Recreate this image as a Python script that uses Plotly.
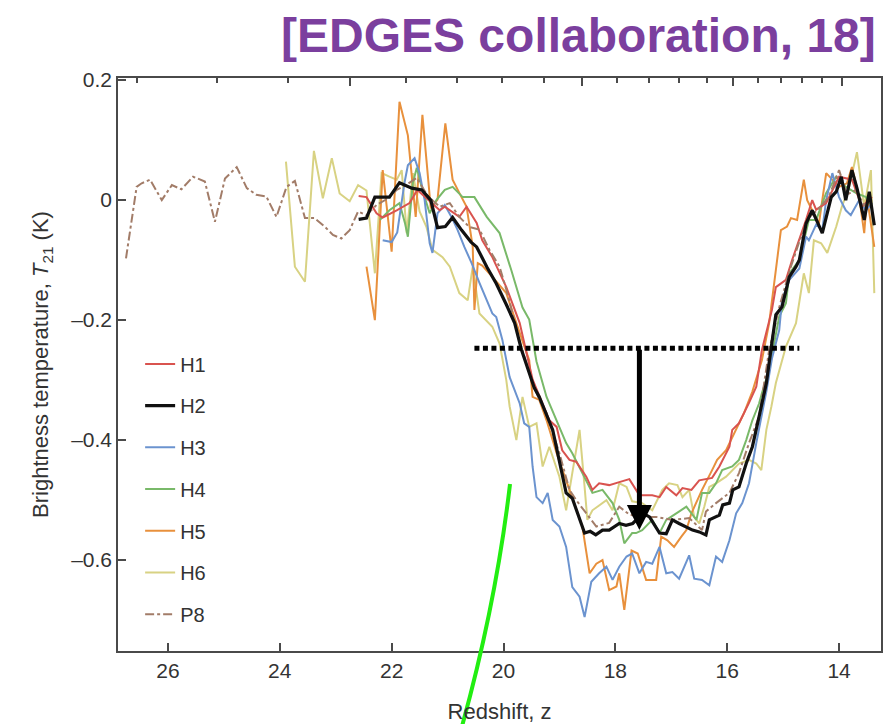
import numpy as np
import plotly.graph_objects as go

# ---------------- data ----------------
H1_z = [22.59, 22.45, 22.27, 22.16, 21.91, 21.68, 21.54, 21.30, 21.14, 21.05, 20.93, 20.79, 20.66, 20.48, 20.38, 20.20,
        19.95, 19.71, 19.48, 19.30, 19.18, 19.05, 18.95, 18.82, 18.70, 18.52, 18.41, 18.29, 18.11, 17.93, 17.75, 17.63,
        17.57, 17.34, 17.21, 17.09, 16.91, 16.80, 16.64, 16.50, 16.27, 16.14, 15.96, 15.91, 15.79, 15.61, 15.48, 15.38,
        15.20, 15.13, 14.95, 14.84, 14.71, 14.59, 14.48, 14.41, 14.23, 14.00, 13.77, 13.59, 13.41]
H1_T = [0.006, 0.004, -0.023, -0.030, -0.018, -0.006, 0.016, -0.005, -0.018, -0.012, -0.020, -0.029, -0.012, -0.039,
        -0.068, -0.096, -0.146, -0.206, -0.300, -0.340, -0.368, -0.379, -0.418, -0.434, -0.437, -0.462, -0.484, -0.473,
        -0.476, -0.471, -0.466, -0.484, -0.493, -0.493, -0.496, -0.479, -0.493, -0.481, -0.484, -0.468, -0.464, -0.445,
        -0.412, -0.384, -0.373, -0.339, -0.312, -0.251, -0.184, -0.146, -0.134, -0.101, -0.068, -0.034, -0.001, -0.017,
        -0.006, 0.038, 0.033, -0.012, 0.004]

H2_z = [22.59, 22.45, 22.30, 22.04, 21.86, 21.64, 21.46, 21.30, 21.18, 21.04, 20.91, 20.75, 20.58, 20.48, 20.30, 20.13,
        19.95, 19.80, 19.68, 19.45, 19.36, 19.12, 18.88, 18.77, 18.55, 18.45, 18.35, 18.23, 18.11, 17.93, 17.81, 17.69,
        17.57, 17.51, 17.39, 17.21, 17.09, 16.98, 16.86, 16.74, 16.62, 16.50, 16.38, 16.32, 16.14, 16.08, 15.96, 15.90,
        15.79, 15.66, 15.55, 15.43, 15.30, 15.21, 15.13, 15.02, 14.89, 14.77, 14.71, 14.59, 14.48, 14.30, 14.14, 14.05,
        13.96, 13.88, 13.77, 13.68, 13.55, 13.46, 13.37]
H2_T = [-0.033, -0.031, 0.004, 0.004, 0.028, 0.019, 0.016, -0.001, -0.047, -0.045, -0.030, -0.051, -0.071, -0.079,
        -0.112, -0.140, -0.175, -0.206, -0.250, -0.314, -0.329, -0.384, -0.489, -0.498, -0.556, -0.553, -0.559, -0.551,
        -0.551, -0.540, -0.543, -0.540, -0.529, -0.523, -0.529, -0.556, -0.557, -0.534, -0.540, -0.545, -0.551, -0.554,
        -0.559, -0.534, -0.526, -0.509, -0.506, -0.484, -0.479, -0.440, -0.412, -0.362, -0.306, -0.245, -0.192, -0.179,
        -0.129, -0.112, -0.101, -0.040, -0.018, -0.056, 0.004, 0.013, 0.038, -0.001, 0.049, 0.019, -0.034, 0.013, -0.043]

H3_z = [22.16, 22.00, 21.90, 21.77, 21.71, 21.59, 21.50, 21.41, 21.32, 21.27, 21.18, 21.05, 20.93, 20.82, 20.70, 20.57,
        20.43, 20.30, 20.20, 20.13, 20.02, 19.89, 19.71, 19.63, 19.54, 19.48, 19.41, 19.30, 19.21, 19.12, 19.00, 18.88,
        18.77, 18.64, 18.55, 18.43, 18.29, 18.16, 18.05, 17.93, 17.80, 17.70, 17.57, 17.45, 17.34, 17.21, 17.09, 16.98,
        16.86, 16.68, 16.59, 16.45, 16.32, 16.20, 16.09, 15.96, 15.84, 15.73, 15.61, 15.48, 15.38, 15.30, 15.20, 15.13,
        15.07, 15.02, 14.89, 14.71, 14.59, 14.54, 14.41, 14.30, 14.23, 14.12, 14.00, 13.88, 13.79, 13.64, 13.52, 13.41]
H3_T = [-0.068, -0.071, -0.055, 0.028, 0.057, 0.069, 0.044, -0.001, -0.073, -0.089, -0.023, -0.009, -0.029, -0.051,
        -0.079, -0.106, -0.139, -0.168, -0.190, -0.196, -0.234, -0.296, -0.340, -0.373, -0.379, -0.445, -0.496, -0.506,
        -0.489, -0.534, -0.545, -0.579, -0.646, -0.662, -0.696, -0.637, -0.623, -0.612, -0.634, -0.612, -0.595, -0.590,
        -0.623, -0.604, -0.607, -0.579, -0.623, -0.621, -0.632, -0.593, -0.632, -0.634, -0.643, -0.595, -0.604, -0.568,
        -0.523, -0.506, -0.473, -0.406, -0.360, -0.320, -0.265, -0.240, -0.218, -0.168, -0.134, -0.115, -0.062, -0.068,
        -0.042, -0.051, -0.001, 0.044, 0.004, -0.018, -0.026, -0.001, -0.018, -0.006]

H4_z = [22.21, 22.04, 21.86, 21.76, 21.71, 21.62, 21.55, 21.45, 21.32, 21.20, 21.05, 20.91, 20.73, 20.52, 20.30, 20.07,
        19.86, 19.66, 19.54, 19.41, 19.23, 19.05, 18.88, 18.77, 18.59, 18.41, 18.23, 18.05, 17.93, 17.84, 17.70, 17.63,
        17.52, 17.34, 17.21, 17.09, 16.91, 16.73, 16.55, 16.45, 16.32, 16.20, 16.09, 15.91, 15.79, 15.66, 15.55, 15.43,
        15.38, 15.25, 15.07, 14.95, 14.89, 14.71, 14.54, 14.41, 14.23, 14.05, 13.88, 13.70, 13.52, 13.41]
H4_T = [-0.034, -0.018, -0.006, -0.040, -0.062, 0.028, 0.053, 0.016, -0.023, -0.001, 0.016, 0.021, 0.004, 0.004,
        -0.029, -0.056, -0.118, -0.180, -0.200, -0.270, -0.329, -0.368, -0.406, -0.423, -0.456, -0.489, -0.484, -0.506,
        -0.534, -0.573, -0.556, -0.556, -0.551, -0.534, -0.556, -0.534, -0.523, -0.512, -0.534, -0.489, -0.489, -0.473,
        -0.451, -0.445, -0.434, -0.401, -0.368, -0.340, -0.323, -0.284, -0.195, -0.173, -0.123, -0.101, -0.034, -0.034,
        0.011, 0.038, 0.021, 0.011, 0.004, -0.012]

H5_z = [22.45, 22.30, 22.16, 22.00, 21.86, 21.71, 21.57, 21.45, 21.30, 21.18, 21.04, 20.91, 20.79, 20.66, 20.55, 20.52,
        20.46, 20.38, 20.20, 19.95, 19.77, 19.54, 19.48, 19.36, 19.23, 19.05, 18.88, 18.70, 18.59, 18.46, 18.34, 18.23,
        18.11, 17.98, 17.93, 17.84, 17.71, 17.60, 17.45, 17.27, 17.18, 17.07, 16.95, 16.82, 16.73, 16.64, 16.54, 16.45,
        16.27, 16.18, 16.02, 15.93, 15.84, 15.70, 15.55, 15.38, 15.25, 15.13, 15.04, 14.93, 14.86, 14.75, 14.63, 14.57,
        14.48, 14.36, 14.23, 14.12, 14.00, 13.86, 13.77, 13.64, 13.55, 13.50, 13.37]
H5_T = [-0.112, -0.201, 0.049, -0.087, 0.163, 0.107, -0.029, 0.141, -0.015, 0.000, 0.127, 0.033, 0.011, -0.012,
        -0.079, -0.184, -0.106, -0.110, -0.129, -0.156, -0.206, -0.268, -0.329, -0.334, -0.368, -0.423, -0.468, -0.518,
        -0.545, -0.623, -0.607, -0.601, -0.651, -0.645, -0.623, -0.684, -0.585, -0.590, -0.634, -0.634, -0.562, -0.568,
        -0.579, -0.562, -0.551, -0.523, -0.501, -0.484, -0.451, -0.434, -0.418, -0.401, -0.384, -0.356, -0.320, -0.268,
        -0.206, -0.118, -0.051, -0.045, -0.031, -0.034, 0.033, -0.001, -0.018, -0.040, 0.044, 0.033, 0.021, 0.027, 0.054,
        0.004, -0.056, 0.004, -0.079]

H6_z = [23.89, 23.73, 23.55, 23.39, 23.23, 23.07, 22.93, 22.75, 22.60, 22.45, 22.30, 22.18, 22.04, 21.91, 21.82, 21.73,
        21.62, 21.50, 21.38, 21.27, 21.09, 20.96, 20.79, 20.64, 20.55, 20.43, 20.20, 20.07, 19.95, 19.89, 19.77, 19.66,
        19.54, 19.41, 19.30, 19.18, 19.00, 18.88, 18.77, 18.64, 18.55, 18.50, 18.41, 18.16, 18.05, 17.93, 17.80, 17.70,
        17.52, 17.34, 17.16, 17.04, 16.89, 16.80, 16.68, 16.59, 16.50, 16.41, 16.32, 16.20, 16.02, 15.91, 15.79, 15.61,
        15.48, 15.39, 15.30, 15.21, 15.13, 14.95, 14.77, 14.63, 14.54, 14.45, 14.32, 14.21, 14.05, 13.95, 13.82, 13.68,
        13.55, 13.43, 13.37]
H6_T = [0.063, -0.112, -0.137, 0.081, 0.002, 0.069, 0.010, -0.003, 0.024, 0.015, -0.123, 0.044, 0.038, 0.033, 0.049,
        -0.056, 0.044, -0.020, -0.045, -0.084, -0.096, -0.112, -0.156, -0.168, -0.112, -0.190, -0.212, -0.240, -0.301,
        -0.345, -0.401, -0.329, -0.379, -0.373, -0.445, -0.412, -0.462, -0.518, -0.456, -0.384, -0.479, -0.534, -0.518,
        -0.501, -0.518, -0.473, -0.479, -0.503, -0.506, -0.518, -0.484, -0.473, -0.476, -0.496, -0.484, -0.529, -0.540,
        -0.512, -0.479, -0.473, -0.462, -0.451, -0.440, -0.434, -0.440, -0.451, -0.384, -0.345, -0.306, -0.245, -0.206,
        -0.123, -0.156, -0.068, -0.073, -0.089, -0.045, -0.012, 0.021, 0.079, -0.012, 0.049, -0.156]

P8_z = [26.75, 26.56, 26.47, 26.32, 26.11, 25.93, 25.76, 25.55, 25.34, 25.16, 24.98, 24.77, 24.59, 24.42, 24.24, 24.06,
        23.88, 23.73, 23.55, 23.38, 23.20, 23.05, 22.90, 22.75, 22.60, 22.45, 22.27, 22.10, 21.91, 21.73, 21.55, 21.35,
        21.14, 20.96, 20.79, 20.61, 20.43, 20.25, 20.07, 19.95, 19.70, 19.50, 19.36, 19.23, 19.00, 18.82, 18.70, 18.52,
        18.34, 18.11, 17.93, 17.75, 17.57, 17.27, 16.98, 16.68, 16.45, 16.38, 16.20, 15.96, 15.79, 15.61, 15.43, 15.25,
        15.07, 14.89, 14.71, 14.54, 14.36, 14.18, 14.00, 13.86, 13.70, 13.55, 13.41]
P8_T = [-0.098, 0.021, 0.027, 0.033, -0.001, 0.024, 0.017, 0.038, 0.030, -0.037, 0.035, 0.054, 0.019, 0.008, 0.005,
        -0.029, 0.021, 0.031, -0.031, -0.031, -0.045, -0.059, -0.065, -0.051, -0.020, -0.026, -0.009, 0.000, 0.016,
        0.025, 0.036, 0.005, -0.012, -0.006, -0.029, -0.046, -0.050, -0.084, -0.112, -0.150, -0.240, -0.300, -0.334,
        -0.356, -0.423, -0.484, -0.501, -0.523, -0.545, -0.539, -0.512, -0.525, -0.529, -0.529, -0.534, -0.531, -0.551,
        -0.520, -0.506, -0.489, -0.456, -0.406, -0.362, -0.251, -0.180, -0.120, -0.070, -0.030, -0.015, 0.005, 0.049,
        0.008, 0.016, -0.010, 0.000]

series_names = ["H1", "H2", "H3", "H4", "H5", "H6", "P8"]

x_tickvals = [26, 24, 22, 20, 18, 16, 14]
x_ticktext = ["26", "24", "22", "20", "18", "16", "14"]
y_tickvals = [0.2, 0.0, -0.2, -0.4, -0.6]
y_ticktext = ["0.2", "0", "\u20130.2", "\u20130.4", "\u20130.6"]

# top axis: age of the Universe (Myr), labels hidden under the title
age_major = [150, 200, 250, 300]
age_minor = [120, 130, 140, 160, 170, 180, 190, 210, 220, 230, 240, 260, 270, 280, 290]
AGE_CONST = 17350.0  # Myr, t(z) ~ AGE_CONST * (1+z)^-1.5

# guide: depth marker
guide_level = -0.248
guide_z = [20.52, 14.71]
arrow_z = 17.57
arrow_tip = -0.551

# ---------------- styling ----------------
colors = {"H1": "#d9534f", "H2": "#111111", "H3": "#6b93cf", "H4": "#79b969",
          "H5": "#e8903c", "H6": "#d8d283", "P8": "#a27c68"}
widths = {"H1": 2, "H2": 3.2, "H3": 2, "H4": 2, "H5": 2, "H6": 2, "P8": 2}
dashes = {"P8": "dashdot"}
data = {"H1": (H1_z, H1_T), "H2": (H2_z, H2_T), "H3": (H3_z, H3_T), "H4": (H4_z, H4_T),
        "H5": (H5_z, H5_T), "H6": (H6_z, H6_T), "P8": (P8_z, P8_T)}
draw_order = ["H6", "H5", "H4", "H3", "H1", "P8", "H2"]

FONT = "Liberation Sans, Arial, Helvetica, sans-serif"

fig = go.Figure()
for name in draw_order:
    zz, tt = data[name]
    fig.add_trace(go.Scatter(
        x=zz, y=tt, mode="lines", name=name,
        line=dict(color=colors[name], width=widths[name], dash=dashes.get(name, "solid")),
        legendgroup=name, legendrank=series_names.index(name) + 1,
    ))

# dotted guide
fig.add_trace(go.Scatter(x=guide_z, y=[guide_level, guide_level], mode="lines",
                         line=dict(color="black", width=5, dash="5px,3.5px"),
                         showlegend=False, hoverinfo="skip"))
# dummy trace for the top axis
fig.add_trace(go.Scatter(x=[None], y=[None], xaxis="x2", showlegend=False, hoverinfo="skip"))

def age_to_z(t):
    return (AGE_CONST / np.asarray(t, dtype=float)) ** (2.0 / 3.0) - 1.0

xr = [26.893, 13.25]
yr = [-0.7525, 0.2025]
axis_col = "#4a4a4a"
tick_font = dict(family=FONT, size=21, color="#333333")

fig.update_layout(
    width=891, height=724,
    margin=dict(l=118, r=10, t=78, b=73, autoexpand=False),
    paper_bgcolor="white", plot_bgcolor="white",
    font=dict(family=FONT, color="#333333"),
    hovermode=False,
    showlegend=True,
    legend=dict(x=0.029, y=0.535, xanchor="left", yanchor="top",
                font=dict(family=FONT, size=20, color="#333333"),
                bgcolor="rgba(0,0,0,0)", traceorder="grouped", tracegroupgap=12.7,
                itemwidth=30),
    xaxis=dict(range=xr, showgrid=False, zeroline=False, showline=True, linecolor=axis_col, linewidth=1.6,
               mirror=True, ticks="inside", ticklen=8, tickwidth=1.6, tickcolor=axis_col, automargin=False,
               tickmode="array", tickvals=x_tickvals, ticktext=x_ticktext, tickfont=tick_font,
               title=dict(text="Redshift, z", font=dict(family=FONT, size=22, color="#333333"), standoff=30)),
    xaxis2=dict(range=xr, overlaying="x", side="top", anchor="y", showgrid=False, zeroline=False,
                showline=False, ticks="inside", ticklen=8, tickwidth=1.6, tickcolor=axis_col, automargin=False,
                tickmode="array", tickvals=list(age_to_z(age_major)),
                showticklabels=False,
                minor=dict(tickmode="array", tickvals=list(age_to_z(age_minor)), ticks="inside", ticklen=5,
                           tickwidth=1.6, tickcolor=axis_col, showgrid=False)),
    yaxis=dict(range=yr, showgrid=False, zeroline=False, showline=True, linecolor=axis_col, linewidth=1.6,
               mirror=True, ticks="inside", ticklen=8, tickwidth=1.6, tickcolor=axis_col, automargin=False,
               tickmode="array", tickvals=y_tickvals, ticktext=y_ticktext, tickfont=tick_font,
               title=dict(text="Brightness temperature, <i>T</i><sub>21</sub> (K)",
                          font=dict(family=FONT, size=22, color="#333333"), standoff=16)),
)

# arrow
fig.add_annotation(x=arrow_z, y=arrow_tip, ax=arrow_z, ay=guide_level, xref="x", yref="y", axref="x", ayref="y",
                   text="", showarrow=True, arrowhead=2, arrowwidth=5, arrowsize=1.0, arrowcolor="black",
                   standoff=0)

# title
fig.add_annotation(x=0.996, y=1.075, xref="paper", yref="paper", xanchor="right", yanchor="middle",
                   text="<b>[EDGES collaboration, 18]</b>", showarrow=False,
                   font=dict(family=FONT, size=48, color="#7b3f9e"))

# green pointer stroke
fig.add_shape(type="path", xref="paper", yref="paper",
              path="M 0.5138 0.2914 Q 0.4954 0.0820 0.4495 -0.1379",
              line=dict(color="#22ee11", width=4))

fig.write_html("out.html", config={"displayModeBar": False},
               post_script="document.body.style.margin='0';document.body.style.padding='0';")
